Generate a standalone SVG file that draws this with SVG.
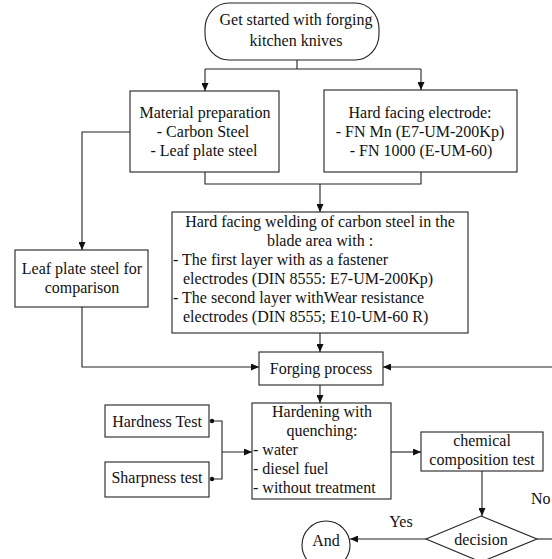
<svg xmlns="http://www.w3.org/2000/svg" width="552" height="559" viewBox="0 0 552 559">
<style>
.box{fill:#fff;stroke:#222;stroke-width:1.1}
.ln{fill:none;stroke:#222;stroke-width:1.1}
text{font-family:"Liberation Serif","Times New Roman",serif;font-size:16px;fill:#111}
.c{text-anchor:middle}
</style>
<defs>
<marker id="ah" markerUnits="userSpaceOnUse" markerWidth="8" markerHeight="7" refX="8" refY="3.5" orient="auto">
<path d="M0,0 L8,3.5 L0,7 z" fill="#111"/>
</marker>
</defs>
<rect width="552" height="559" fill="#fff"/>
<g id="connectors">
<path class="ln" d="M297,60 V69 M205,69 H421"/>
<path class="ln" d="M205,69 V91" marker-end="url(#ah)"/>
<path class="ln" d="M421,69 V90" marker-end="url(#ah)"/>
<path class="ln" d="M205,172 V184 H421 V172"/>
<path class="ln" d="M320,184 V212" marker-end="url(#ah)"/>
<path class="ln" d="M130,132 H82 V250" marker-end="url(#ah)"/>
<path class="ln" d="M82,307 V367 H259" marker-end="url(#ah)"/>
<path class="ln" d="M320,333 V352" marker-end="url(#ah)"/>
<path class="ln" d="M552,367 H383" marker-end="url(#ah)"/>
<path class="ln" d="M320,385 V403" marker-end="url(#ah)"/>
<path class="ln" d="M212,421 H222 V479 H212 M222,452 H252" marker-end="url(#ah)"/>
<circle cx="212" cy="421" r="2.2" fill="#111"/>
<circle cx="212" cy="479" r="2.2" fill="#111"/>
<path class="ln" d="M391,452 H421" marker-end="url(#ah)"/>
<path class="ln" d="M482,471 V516" marker-end="url(#ah)"/>
<path class="ln" d="M426,539 H350" marker-end="url(#ah)"/>
<path class="ln" d="M537,539 H552"/>
<text x="401" y="527" class="c">Yes</text>
<text x="531" y="504">No</text>
</g>
<g id="start">
<rect class="box" x="205" y="3" width="174" height="57" rx="24" ry="26"/>
<text x="296" y="25" class="c">Get started with forging</text>
<text x="296" y="46" class="c">kitchen knives</text>
</g>
<g id="material">
<rect class="box" x="130" y="91" width="149" height="81"/>
<text x="205" y="118" class="c">Material preparation</text>
<text x="203" y="137" class="c">- Carbon Steel</text>
<text x="204" y="156" class="c">- Leaf plate steel</text>
</g>
<g id="electrode">
<rect class="box" x="324" y="90" width="193" height="82"/>
<text x="420" y="118" class="c">Hard facing electrode:</text>
<text x="420" y="137" class="c">- FN Mn (E7-UM-200Kp)</text>
<text x="421" y="156" class="c">- FN 1000 (E-UM-60)</text>
</g>
<g id="leaf">
<rect class="box" x="15" y="250" width="133" height="57"/>
<text x="82" y="274" class="c">Leaf plate steel for</text>
<text x="82" y="293" class="c">comparison</text>
</g>
<g id="welding">
<rect class="box" x="172" y="212" width="296" height="121"/>
<text x="320" y="227" class="c">Hard facing welding of carbon steel in the</text>
<text x="320" y="246" class="c">blade area with :</text>
<text x="173" y="265">- The first layer with as a fastener</text>
<text x="183" y="284">electrodes (DIN 8555: E7-UM-200Kp)</text>
<text x="173" y="303">- The second layer withWear resistance</text>
<text x="183" y="322">electrodes (DIN 8555; E10-UM-60 R)</text>
</g>
<g id="forging">
<rect class="box" x="259" y="352" width="124" height="33"/>
<text x="321" y="374" class="c">Forging process</text>
</g>
<g id="hardness">
<rect class="box" x="105" y="405" width="104" height="32"/>
<text x="157" y="427" class="c">Hardness Test</text>
</g>
<g id="sharpness">
<rect class="box" x="105" y="462" width="104" height="35"/>
<text x="157" y="483" class="c">Sharpness test</text>
</g>
<g id="hardening">
<rect class="box" x="252" y="403" width="139" height="96"/>
<text x="322" y="417" class="c">Hardening with</text>
<text x="322" y="436" class="c">quenching:</text>
<text x="253" y="455">- water</text>
<text x="253" y="474">- diesel fuel</text>
<text x="253" y="493">- without treatment</text>
</g>
<g id="chemical">
<rect class="box" x="421" y="432" width="122" height="39"/>
<text x="482" y="446" class="c">chemical</text>
<text x="482" y="465" class="c">composition test</text>
</g>
<g id="decision">
<polygon class="box" points="481,516 537,539 481,562 426,539"/>
<text x="481" y="545" class="c">decision</text>
</g>
<g id="and">
<circle class="box" cx="326" cy="545" r="24"/>
<text x="326" y="546" class="c">And</text>
</g>
</svg>
